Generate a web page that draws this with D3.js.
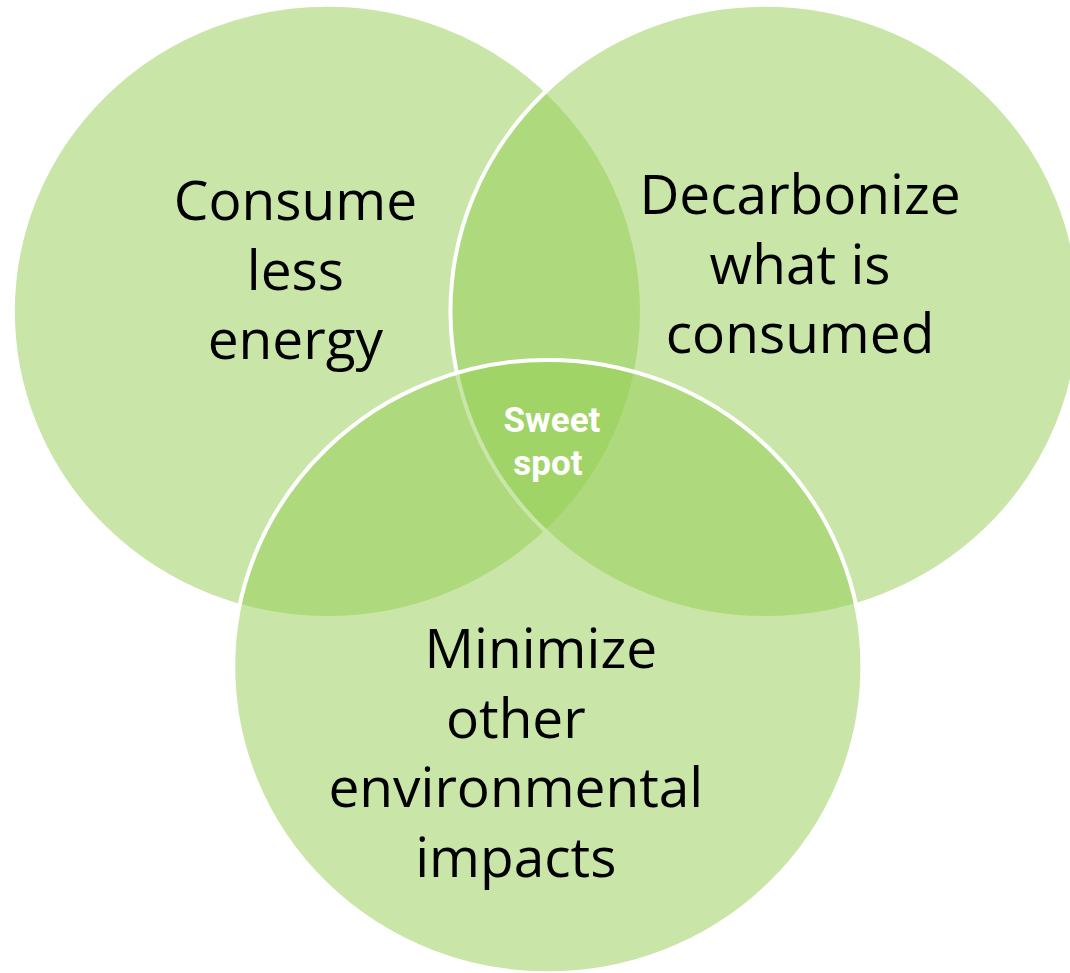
<!DOCTYPE html>
<html>
<head>
<meta charset="utf-8">
<style>
body{ margin:0; background:#fff; }
.circle{
    fill: #93cd51;
    fill-opacity: 0.5;
    stroke: #fff;
    stroke-width: 4;
}
.label{
    font-family: "Open Sans", sans-serif;
    font-size: 55px;
    fill: #000;
}
.sweet{
    font-family: Roboto, sans-serif;
    font-weight: 700;
    font-size: 35px;
    fill: #fff;
}
</style>
<script src="https://d3js.org/d3.v7.min.js"></script>
</head>

<body>
<script>
var w = 1070;
var h = 973;

// the three sets (drawn in this order)
var setNames = ["Consume less energy", "Decarbonize what is consumed", "Minimize other environmental impacts"];
var setLines = [
    ["Consume", "less", "energy"],
    ["Decarbonize", "what is", "consumed"],
    ["Minimize", "other", "environmental", "impacts"]
];
// centres in venn units (0..100 wide)
var setX = [30.6, 71.5, 51.2];
var setY = [29.1, 29.1, 62.3];
var setR = 29.4;
var centerLines = ["Sweet", "spot"];

var xScale = d3.scaleLinear().domain([0, 100]).range([0, w]);
var yScale = d3.scaleLinear().domain([0, 100]).range([0, w]);

var svg = d3.select("body")
        .append("svg")
        .attr("width", w)
        .attr("height", h);

var sets = setNames.map(function(d, i){
    return {name: d, x: setX[i], y: setY[i], lines: setLines[i]};
});

svg.selectAll("ellipse")
   .data(sets)
   .enter()
   .append("ellipse")
   .attr("class", "circle")
   .attr("cx", function(d){ return xScale(d.x); })
   .attr("cy", function(d){ return yScale(d.y); })
   .attr("rx", xScale(setR))
   .attr("ry", xScale(setR) * 0.975);

// label anchors, relative to each circle
var labelPos = [
    {dx: -32, top: 220, shift: [0, 0, 0]},
    {dx: 35, top: 214, shift: [0, 0, 0]},
    {dx: -32, top: 668, shift: [25, 0, 0, 0]}
];
var lineH = 69.5;

sets.forEach(function(s, i){
    var t = svg.append("text")
        .attr("class", "label")
        .attr("text-anchor", "middle");
    t.selectAll("tspan")
     .data(s.lines)
     .enter()
     .append("tspan")
     .attr("x", function(d, j){ return xScale(s.x) + labelPos[i].dx + labelPos[i].shift[j]; })
     .attr("y", function(d, j){ return labelPos[i].top + j * lineH; })
     .text(function(d){ return d; });
});

svg.append("text")
   .attr("class", "sweet")
   .attr("text-anchor", "middle")
   .selectAll("tspan")
   .data(centerLines)
   .enter()
   .append("tspan")
   .attr("x", function(d, i){ return i === 0 ? 552 : 548; })
   .attr("y", function(d, i){ return 432 + i * 43; })
   .text(function(d){ return d; });
</script>
</body>
</html>
